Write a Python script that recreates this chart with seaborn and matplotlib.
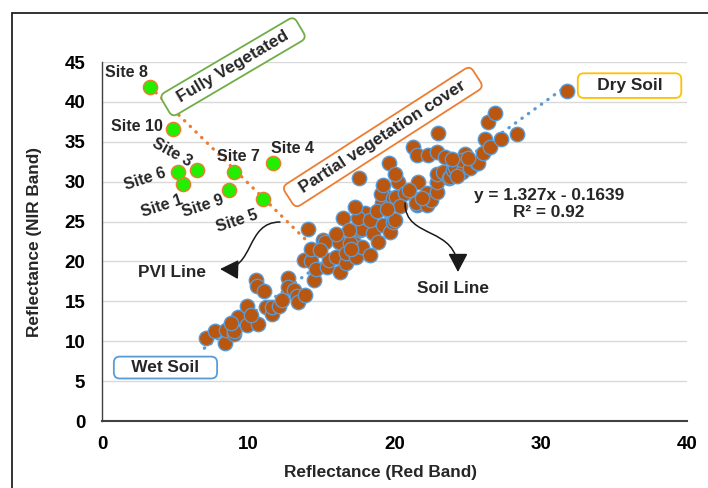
import numpy as np
import pandas as pd
import matplotlib
matplotlib.use("Agg")
import matplotlib.pyplot as plt
from matplotlib.lines import Line2D
from matplotlib.patches import FancyArrowPatch
from matplotlib.path import Path
import seaborn as sns

# ---- data -------------------------------------------------------------
# soil pixels: red-band vs NIR-band reflectance
soil_red = [7.1, 7.7, 8.4, 8.5, 9.0, 9.0, 9.3, 9.9, 9.9, 10.5, 10.6, 11.1, 10.7,
            11.2, 11.6, 11.6, 12.1, 12.7, 12.7, 13.1, 13.3, 13.4, 13.9, 13.8, 14.3,
            14.5, 14.6, 14.3, 14.1, 15.1, 15.25, 15.4, 15.5, 14.9, 16.0, 16.2, 16.3,
            16.7, 16.7, 17.1, 17.2, 17.4, 17.75, 18.3, 16.5, 16.96, 17.64, 17.75,
            18.55, 18.1, 17.98, 17.52, 18.32, 17.3, 17.6, 19.2, 19.7, 19.9, 20.03,
            19.13, 19.23, 19.1, 19.23, 19.6, 19.92, 20.1, 20.26, 20.72, 21.52, 21.5,
            21.63, 21.29, 21.52, 22.31, 22.9, 23.45, 24.82, 22.2, 22.2, 22.5, 22.89,
            22.89, 22.9, 23.34, 23.7, 23.79, 24.0, 24.14, 24.59, 24.6, 25.16, 25.62,
            25.7, 26.07, 23.0, 26.2, 26.5, 27.3, 26.4, 26.9, 28.35, 31.77,
            20.4, 21.0, 21.9, 18.8, 19.5, 16.9, 18.9, 16.0, 24.3, 25.0, 23.9, 20.0,
            17.0, 12.3, 10.2, 8.8]
soil_nir = [10.4, 11.3, 9.8, 11.4, 10.9, 11.3, 13.0, 12.0, 14.4, 17.7, 16.9, 16.3, 12.1,
            14.3, 13.4, 14.3, 14.4, 17.9, 16.8, 16.4, 15.7, 14.9, 15.8, 20.2, 20.1,
            17.7, 19.0, 21.6, 24.1, 22.7, 22.5, 19.3, 20.2, 21.4, 20.6, 22.5, 18.7,
            19.8, 21.0, 22.1, 22.3, 20.6, 21.8, 20.8, 25.4, 22.27, 23.93, 24.1,
            23.52, 25.4, 26.03, 25.4, 25.19, 26.85, 30.4, 24.6, 23.7, 25.0, 25.19,
            27.28, 28.53, 28.5, 29.57, 32.3, 27.91, 28.1, 29.99, 28.53, 27.07, 27.3,
            29.99, 34.37, 33.33, 33.33, 33.7, 33.12, 33.46, 28.53, 27.07, 27.7, 28.73,
            29.99, 31.0, 31.24, 30.4, 30.61, 31.45, 31.87, 31.24, 32.7, 31.67, 32.29,
            32.3, 33.55, 36.05, 35.4, 34.4, 35.3, 37.5, 38.6, 36.0, 41.4,
            27.0, 28.9, 28.0, 26.3, 26.6, 24.0, 22.5, 23.5, 30.7, 33.0, 32.8, 31.0,
            21.5, 15.2, 13.3, 12.3]

# vegetated field sites
site_names = ["Site 1", "Site 3", "Site 4", "Site 5", "Site 6",
              "Site 7", "Site 8", "Site 9", "Site 10"]
site_red = [5.56, 6.52, 11.67, 11.03, 5.22, 9.05, 3.28, 8.71, 4.88]
site_nir = [29.66, 31.45, 32.4, 27.8, 31.2, 31.17, 41.9, 29.0, 36.55]

# soil line fit and PVI line
soil_slope, soil_intercept, soil_r2 = 1.327, -0.1639, 0.92
soil_line_red = [7.0, 31.8]
pvi_slope, pvi_intercept = -1.8, 47.8
pvi_line_red = [3.3, 15.4]

x_ticks = [0, 10, 20, 30, 40]
y_ticks = [0, 5, 10, 15, 20, 25, 30, 35, 40, 45]

# ---- style ------------------------------------------------------------
sns.set_theme(style="white")
plt.rcParams["font.family"] = ["Liberation Sans", "DejaVu Sans"]
plt.rcParams["font.weight"] = "bold"

BROWN = "#b9560f"
BLUE = "#5b9bd5"
ORANGE = "#ed7d31"
GREEN_FILL = "#22ee00"
GREEN_EDGE = "#70ad47"
GOLD = "#ffc000"

W, H = 708, 488
fig = plt.figure(figsize=(W / 100, H / 100), dpi=100)
ax = fig.add_axes([102 / W, 1 - 421 / H, (687 - 102) / W, (421 - 62) / H])

soil_df = pd.DataFrame({"red": soil_red, "nir": soil_nir})
site_df = pd.DataFrame({"site": site_names, "red": site_red, "nir": site_nir})

# dotted trend lines
soil_x = np.array(soil_line_red)
pvi_x = np.array(pvi_line_red)
sns.lineplot(x=soil_x, y=soil_slope * soil_x + soil_intercept, ax=ax,
             color=BLUE, lw=2.4, linestyle=(0, (0.1, 2.3)),
             dash_capstyle="round", zorder=2)
sns.lineplot(x=pvi_x, y=pvi_slope * pvi_x + pvi_intercept, ax=ax,
             color=ORANGE, lw=2.4, linestyle=(0, (0.1, 2.3)),
             dash_capstyle="round", zorder=2)

sns.scatterplot(data=soil_df, x="red", y="nir", ax=ax, s=108, color=BROWN,
                edgecolor=BLUE, linewidth=1.0, zorder=3)
sns.scatterplot(data=site_df, x="red", y="nir", ax=ax, s=105, color=GREEN_FILL,
                edgecolor=ORANGE, linewidth=1.0, zorder=4)

ax.set_xlim(0, 40)
ax.set_ylim(0, 45)
ax.set_xticks(x_ticks)
ax.set_yticks(y_ticks)
ax.set_xticklabels([str(v) for v in x_ticks], fontsize=13.5, fontweight="bold")
ax.set_yticklabels([str(v) for v in y_ticks], fontsize=13.5, fontweight="bold")
ax.tick_params(axis="x", length=0, pad=11, colors="black")
ax.tick_params(axis="y", length=0, pad=12, colors="black")
ax.yaxis.grid(True, color="#d9d9d9", lw=1.0)
ax.xaxis.grid(False)
ax.set_axisbelow(True)
for side in ["top", "right"]:
    ax.spines[side].set_visible(False)
ax.spines["left"].set_color("#404040")
ax.spines["left"].set_linewidth(1.0)
ax.spines["bottom"].set_color("#404040")
ax.spines["bottom"].set_linewidth(1.5)

ax.set_xlabel("Reflectance (Red Band)", fontsize=12.4, fontweight="bold")
ax.set_ylabel("Reflectance (NIR Band)", fontsize=12.4, fontweight="bold")
ax.xaxis.set_label_coords((380 - 102) / 585, (421 - 472) / 359)
ax.xaxis.label.set_va("center")
ax.yaxis.set_label_coords((35 - 102) / 585, 0.5)
ax.yaxis.label.set_va("center")

# site labels (offsets in points, rotation in degrees)
site_label_style = {
    "Site 1": (-15.6, -15.4, 18),
    "Site 3": (-18.3, 13.0, -29),
    "Site 4": (14.6, 10.3, 0),
    "Site 5": (-19.2, -15.6, 18),
    "Site 6": (-24.0, -4.8, 18),
    "Site 7": (2.7, 11.7, 0),
    "Site 8": (-16.6, 9.9, 0),
    "Site 9": (-19.0, -11.8, 18),
    "Site 10": (-26.0, 2.4, 0),
}
for name, x, y in zip(site_names, site_red, site_nir):
    dx, dy, rot = site_label_style[name]
    ax.annotate(name, (x, y), xytext=(dx, dy), textcoords="offset points",
                ha="center", va="center", rotation=rot, fontsize=11.5,
                fontweight="bold", annotation_clip=False, zorder=6)

def boxed(text, x, y, edge, rot=0, pad=0.3):
    ax.text(x, y, text, ha="center", va="center", rotation=rot,
            rotation_mode="anchor", fontsize=12.4, fontweight="bold",
            clip_on=False, zorder=6,
            bbox=dict(boxstyle=f"round,pad={pad},rounding_size=0.35",
                      fc="white", ec=edge, lw=1.3))

boxed("  Fully Vegetated  ", 8.96, 44.4, GREEN_EDGE, rot=30.5)
boxed("  Partial vegetation cover  ", 19.2, 35.6, ORANGE, rot=32.8)
boxed("   Dry Soil   ", 36.07, 42.04, GOLD, pad=0.28)
boxed("   Wet Soil   ", 4.34, 6.70, BLUE, pad=0.2)

ax.text(30.56, 27.2, "y = 1.327x - 0.1639\nR² = 0.92", ha="center",
        va="center", multialignment="center", fontsize=12.4,
        fontweight="bold", linespacing=1.1, zorder=6)
ax.text(4.79, 18.67, "PVI Line", ha="center", va="center", fontsize=12.4,
        fontweight="bold", zorder=6)
ax.text(24.0, 16.67, "Soil Line", ha="center", va="center", fontsize=12.4,
        fontweight="bold", zorder=6)

# curved call-out arrows (cubic Bezier paths in data units)
def curved_arrow(p0, p1, p2, p3):
    path = Path([p0, p1, p2, p3], [Path.MOVETO, Path.CURVE4, Path.CURVE4, Path.CURVE4])
    arrow = FancyArrowPatch(path=path, transform=ax.transData,
                            arrowstyle="-|>,head_length=0.95,head_width=0.5",
                            color="#1a1a1a", lw=1.1, zorder=5,
                            mutation_scale=12, clip_on=False)
    ax.add_patch(arrow)

curved_arrow((12.17, 24.94), (9.78, 24.94), (10.46, 18.92), (8.07, 19.05))
curved_arrow((20.72, 27.32), (20.72, 22.68), (24.34, 24.56), (24.34, 18.67))

# outer frame
fx, fy = 12 / W, 1 - 13 / H
fig.add_artist(Line2D([fx, fx], [fy, 0], transform=fig.transFigure,
                      color="#222222", lw=1.3))
fig.add_artist(Line2D([fx, 1], [fy, fy], transform=fig.transFigure,
                      color="#222222", lw=1.3))

fig.savefig("out.png", dpi=100, facecolor="white")
